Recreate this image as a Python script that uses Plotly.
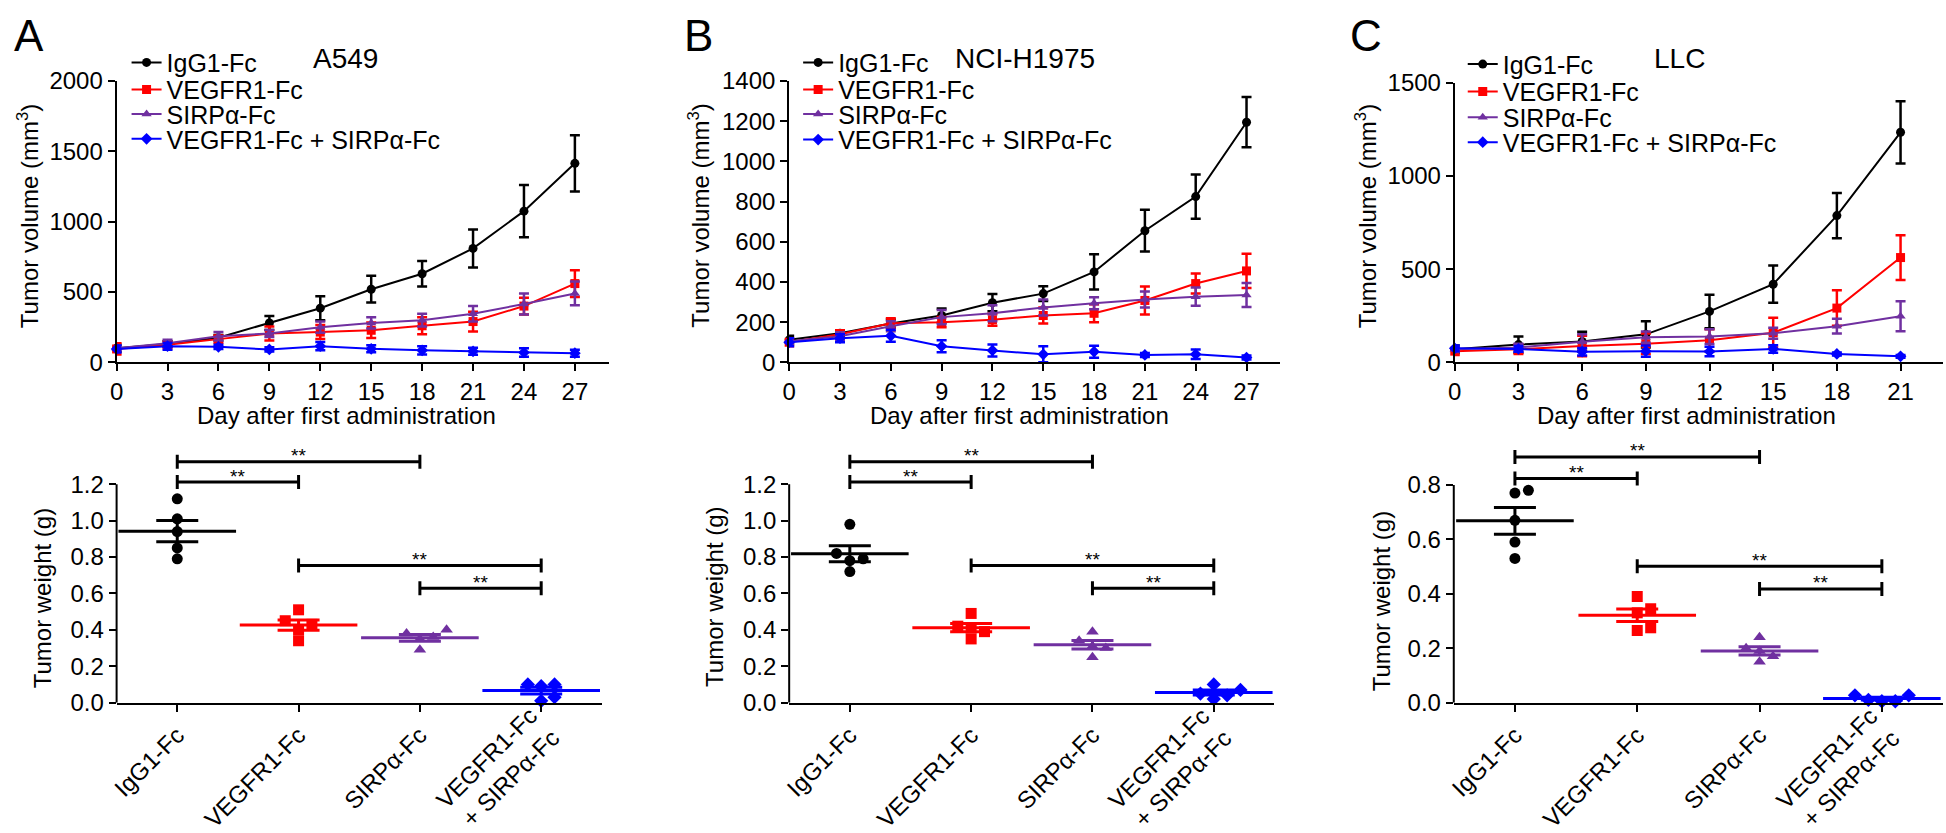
import numpy as np
import plotly.graph_objects as go

FONT = "Liberation Sans, Arial, sans-serif"
W, H = 1946, 833

# ---- data -------------------------------------------------------------
groups = ["IgG1-Fc", "VEGFR1-Fc", "SIRPα-Fc", "VEGFR1-Fc + SIRPα-Fc"]
bottom_labels = ["IgG1-Fc", "VEGFR1-Fc", "SIRPα-Fc", "VEGFR1-Fc<br>+ SIRPα-Fc"]
cell_lines = ["A549", "NCI-H1975", "LLC"]

days_A = [0, 3, 6, 9, 12, 15, 18, 21, 24, 27]
igg_A = [100, 130, 175, 280, 385, 520, 630, 810, 1075, 1415]
igg_A_err = [25, 20, 20, 50, 85, 95, 90, 135, 185, 200]
vegf_A = [95, 125, 165, 205, 215, 228, 260, 290, 400, 560]
vegf_A_err = [40, 25, 25, 50, 50, 55, 60, 70, 60, 95]
sirp_A = [100, 135, 185, 205, 250, 280, 300, 345, 415, 490]
sirp_A_err = [20, 25, 30, 25, 40, 40, 45, 55, 75, 85]
combo_A = [95, 115, 110, 92, 115, 96, 85, 78, 70, 65]
combo_A_err = [25, 25, 15, 15, 30, 25, 30, 25, 30, 25]

days_B = [0, 3, 6, 9, 12, 15, 18, 21, 24, 27]
igg_B = [112, 145, 193, 233, 297, 342, 450, 655, 825, 1195]
igg_B_err = [20, 15, 20, 35, 43, 37, 88, 104, 110, 125]
vegf_B = [100, 140, 195, 200, 212, 233, 244, 308, 392, 455]
vegf_B_err = [20, 20, 25, 25, 30, 40, 45, 70, 50, 85]
sirp_B = [105, 130, 180, 225, 244, 273, 294, 313, 327, 335]
sirp_B_err = [15, 20, 25, 35, 40, 40, 30, 40, 45, 60]
combo_B = [100, 120, 132, 80, 59, 40, 53, 37, 40, 24]
combo_B_err = [20, 20, 30, 30, 30, 40, 30, 10, 24, 10]

days_C = [0, 3, 6, 9, 12, 15, 18, 21]
igg_C = [70, 95, 112, 150, 273, 419, 787, 1234]
igg_C_err = [20, 43, 52, 70, 90, 100, 121, 167]
vegf_C = [60, 70, 87, 100, 118, 159, 291, 562]
vegf_C_err = [20, 25, 55, 55, 60, 80, 95, 120]
sirp_C = [70, 80, 110, 135, 138, 156, 194, 247]
sirp_C_err = [15, 20, 40, 30, 40, 30, 40, 80]
combo_C = [75, 72, 57, 60, 58, 72, 45, 32]
combo_C_err = [15, 15, 20, 30, 25, 20, 8, 8]

weight_A = [[1.12, 1.01, 0.94, 0.85, 0.79],
            [0.51, 0.45, 0.43, 0.40, 0.34],
            [0.40, 0.38, 0.36, 0.35, 0.29],
            [0.10, 0.10, 0.09, 0.03, 0.01]]
weight_B = [[0.98, 0.82, 0.79, 0.78, 0.72],
            [0.49, 0.42, 0.41, 0.39, 0.35],
            [0.39, 0.34, 0.31, 0.30, 0.25],
            [0.10, 0.07, 0.05, 0.04, 0.02]]
weight_C = [[0.78, 0.77, 0.67, 0.59, 0.53],
            [0.39, 0.345, 0.33, 0.275, 0.265],
            [0.24, 0.20, 0.19, 0.17, 0.15],
            [0.027, 0.010, 0.005, 0.005, 0.027]]

# significance brackets: (from group, to group, height in g)
sig_AB = [(0, 2, 1.324), (0, 1, 1.212), (1, 3, 0.753), (2, 3, 0.629)]
sig_C = [(0, 2, 0.903), (0, 1, 0.824), (1, 3, 0.501), (2, 3, 0.418)]

# ---- style ------------------------------------------------------------
colors = ["#000000", "#FF0000", "#7030A0", "#0000FF"]
symbols = ["circle", "square", "triangle-up", "diamond"]


def px(x):
    return x / W


def py(y):
    return 1 - y / H


def txt(text, x, y, size=24, angle=0):
    return dict(text=text, x=px(x), y=py(y), xref="paper", yref="paper",
                xanchor="center", yanchor="middle", textangle=angle, showarrow=False,
                font=dict(family=FONT, size=size, color="black"))


def swarm(vals, thr, step=0.11):
    # spread overlapping points sideways like a column scatter
    vals = np.asarray(vals, float)
    off = np.zeros(len(vals))
    done = []
    for i in np.argsort(vals):
        for c in [0, step, -step, 2 * step, -2 * step]:
            if all(abs(vals[i] - vals[j]) >= thr or abs(c - off[j]) >= step * 0.9 for j in done):
                off[i] = c
                break
        done.append(i)
    return off


top = [
    dict(days=days_A, series=[igg_A, vegf_A, sirp_A, combo_A],
         errs=[igg_A_err, vegf_A_err, sirp_A_err, combo_A_err],
         xdom=(110, 604), ytop=69.3, xmax=29, ymax=2000, ydt=500,
         letter="A", letter_x=22, title_x=340, ytitle_x=21, xtitle_x=341,
         leg_x=168, leg_y=[69.3, 97.3, 122.7, 148.3]),
    dict(days=days_B, series=[igg_B, vegf_B, sirp_B, combo_B],
         errs=[igg_B_err, vegf_B_err, sirp_B_err, combo_B_err],
         xdom=(785, 1278), ytop=69.3, xmax=29, ymax=1400, ydt=200,
         letter="B", letter_x=694, title_x=1022, ytitle_x=695, xtitle_x=1016,
         leg_x=842, leg_y=[69.3, 97.3, 122.7, 149]),
    dict(days=days_C, series=[igg_C, vegf_C, sirp_C, combo_C],
         errs=[igg_C_err, vegf_C_err, sirp_C_err, combo_C_err],
         xdom=(1453, 1943), ytop=71, xmax=23, ymax=1500, ydt=500,
         letter="C", letter_x=1364, title_x=1679, ytitle_x=1364, xtitle_x=1686,
         leg_x=1509, leg_y=[71, 99.3, 126, 151.7]),
]

bottom = [
    dict(w=weight_A, sig=sig_AB, xdom=(110, 597), ppu=188.1, ymax=1.2, dt=0.2, ytop=1.45,
         ytitle_x=36, ytitle_y=603),
    dict(w=weight_B, sig=sig_AB, xdom=(785, 1272), ppu=188.1, ymax=1.2, dt=0.2, ytop=1.45,
         ytitle_x=710, ytitle_y=602),
    dict(w=weight_C, sig=sig_C, xdom=(1452, 1943), ppu=281.25, ymax=0.8, dt=0.2, ytop=0.966,
         ytitle_x=1379, ytitle_y=607),
]

axis_common = dict(showgrid=False, zeroline=False, linecolor="black", linewidth=2,
                   ticks="outside", ticklen=7, tickwidth=2, tickcolor="black",
                   tickfont=dict(family=FONT, size=24, color="black"))

fig = go.Figure()
annotations = []
shapes = []
layout = {}

# ---- top row: growth curves --------------------------------------------
for p, cfg in enumerate(top):
    n = p + 1
    xa, ya = f"x{n}" if n > 1 else "x", f"y{n}" if n > 1 else "y"
    for g in range(4):
        idx = p * 4 + g
        leg = "legend" if idx == 0 else f"legend{idx + 1}"
        fig.add_trace(go.Scatter(
            x=cfg["days"], y=cfg["series"][g], name=groups[g],
            mode="lines+markers", xaxis=xa, yaxis=ya, legend=leg,
            line=dict(color=colors[g], width=2),
            marker=dict(symbol=symbols[g], size=9, color=colors[g]),
            error_y=dict(type="data", array=cfg["errs"][g], color=colors[g],
                         thickness=2.5, width=5),
            cliponaxis=False,
        ))
        layout[leg] = dict(x=px(cfg["leg_x"] - 48), y=py(cfg["leg_y"][g] - 19),
                           xanchor="left", yanchor="middle", bgcolor="rgba(0,0,0,0)",
                           font=dict(family=FONT, size=25, color="black"))
    layout[f"xaxis{n}"] = dict(axis_common, domain=[px(cfg["xdom"][0]), px(cfg["xdom"][1])],
                               range=[0, cfg["xmax"]], tickvals=cfg["days"], showline=True,
                               anchor=ya)
    layout[f"yaxis{n}"] = dict(axis_common, domain=[py(360), py(cfg["ytop"])],
                               range=[0, cfg["ymax"]], dtick=cfg["ydt"], tick0=0,
                               showline=True, anchor=xa)
    annotations += [
        txt(cfg["letter"], cfg["letter_x"], 22, size=44),
        txt(cell_lines[p], cfg["title_x"], 46, size=28),
        txt("Tumor volume (mm<sup>3</sup>)", cfg["ytitle_x"], 209, angle=-90),
        txt("Day after first administration", cfg["xtitle_x"], 415),
    ]

# ---- bottom row: tumour weights ---------------------------------------
for p, cfg in enumerate(bottom):
    n = p + 4
    xa, ya = f"x{n}", f"y{n}"
    thr = 11 / cfg["ppu"]
    for g in range(4):
        vals = np.asarray(cfg["w"][g], float)
        fig.add_trace(go.Scatter(
            x=g + swarm(vals, thr), y=vals, mode="markers", xaxis=xa, yaxis=ya,
            showlegend=False, marker=dict(symbol=symbols[g], size=11, color=colors[g]),
            cliponaxis=False,
        ))
        mean = vals.mean()
        sem = vals.std(ddof=1) / np.sqrt(len(vals))
        fig.add_trace(go.Scatter(
            x=[g], y=[mean], mode="markers", xaxis=xa, yaxis=ya, showlegend=False,
            marker=dict(symbol="line-ew", size=84, line=dict(color=colors[g], width=3)),
            error_y=dict(type="data", array=[sem], color=colors[g], thickness=3, width=21),
            cliponaxis=False,
        ))
    top_px = 711.7 - cfg["ytop"] * cfg["ppu"]
    # the two-line label is placed as a centred block, the others as ordinary ticks
    layout[f"xaxis{n}"] = dict(axis_common, domain=[px(cfg["xdom"][0]), px(cfg["xdom"][1])],
                               range=[-0.5, 3.5], tickvals=[0, 1, 2, 3],
                               ticktext=bottom_labels[:3] + [" "],
                               tickangle=-45, showline=True, anchor=ya)
    annotations.append(dict(text=bottom_labels[3], x=3, y=0, xref=xa, yref=ya,
                            xanchor="center", yanchor="middle", xshift=-44, yshift=-66,
                            textangle=-45, align="right", showarrow=False,
                            font=dict(family=FONT, size=24, color="black")))
    layout[f"yaxis{n}"] = dict(axis_common, domain=[py(711.7), py(top_px)],
                               range=[0, cfg["ytop"]],
                               tickvals=list(np.round(np.arange(0, cfg["ymax"] + 1e-9, cfg["dt"]), 2)),
                               tickformat=".1f", showline=False, anchor=xa)
    shapes.append(dict(type="line", xref=f"{xa} domain", yref=ya, x0=0, x1=0, y0=0,
                       y1=cfg["ymax"], line=dict(color="black", width=2)))
    for a, b, lvl in cfg["sig"]:
        shapes.append(dict(type="line", xref=xa, yref=ya, x0=a, x1=b, y0=lvl, y1=lvl,
                           line=dict(color="black", width=3)))
        for e in (a, b):
            shapes.append(dict(type="line", xref=xa, yref=ya, ysizemode="pixel", yanchor=lvl,
                               x0=e, x1=e, y0=-7, y1=7, line=dict(color="black", width=3)))
        annotations.append(dict(text="**", x=(a + b) / 2, y=lvl, xref=xa, yref=ya,
                                xanchor="center", yanchor="middle", yshift=6, showarrow=False,
                                font=dict(family=FONT, size=19, color="black")))
    annotations.append(txt("Tumor weight (g)", cfg["ytitle_x"], cfg["ytitle_y"], angle=-90))

fig.update_layout(
    width=W, height=H, margin=dict(l=0, r=0, t=0, b=0),
    paper_bgcolor="white", plot_bgcolor="white",
    font=dict(family=FONT, color="black"),
    annotations=annotations, shapes=shapes, **layout,
)

# drop the browser's default body margin so the figure sits flush in the window
fig.write_html("out.html", config={"displayModeBar": False},
               post_script="document.body.style.margin='0';document.body.style.overflow='hidden';")
